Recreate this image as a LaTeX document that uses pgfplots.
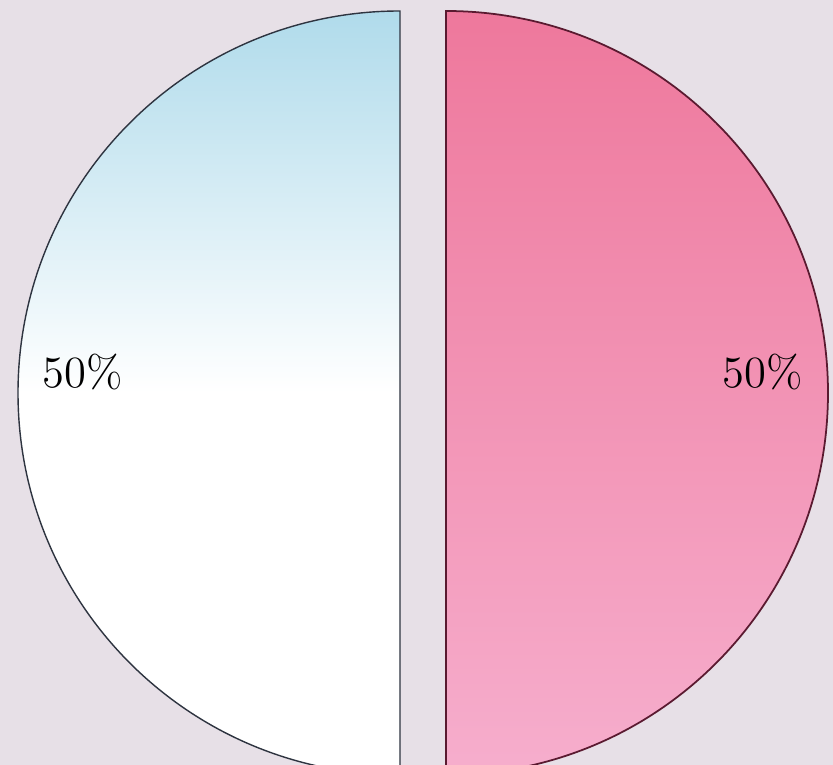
\documentclass[border=0pt]{standalone}
\usepackage{pgfplots}
\pgfplotsset{compat=1.18}
\usepackage{pgfplotstable}
\definecolor{bg}{HTML}{E7E0E7}
\definecolor{blueA}{HTML}{B0DBEB}
\definecolor{pinkA}{HTML}{EE789C}
\definecolor{pinkB}{HTML}{F6AECD}
\definecolor{rimL}{HTML}{2E3440}
\definecolor{rimR}{HTML}{5A1A30}

\pgfplotstableread{
label value
A 50
B 50
}\piedata

% geometry in data units (1 unit = 0.1 mm)
\def\cx{423}\def\cy{372}\def\R{382}\def\ex{23}\def\lr{0.83}

\pgfplotstablegetelem{0}{value}\of\piedata \let\va\pgfplotsretval
\pgfplotstablegetelem{1}{value}\of\piedata \let\vb\pgfplotsretval
\pgfmathsetmacro\tot{\va+\vb}
\pgfmathsetmacro\fA{\va/\tot}
\pgfmathsetmacro\fB{\vb/\tot}
\pgfmathsetmacro\sA{90}
\pgfmathsetmacro\eA{\sA+360*\fA}
\pgfmathsetmacro\mA{(\sA+\eA)/2}
\pgfmathsetmacro\sB{\eA}
\pgfmathsetmacro\eB{\sB+360*\fB}
\pgfmathsetmacro\mB{(\sB+\eB)/2}
\pgfmathsetmacro\axA{\cx+\ex*cos(\mA)}\pgfmathsetmacro\ayA{\cy+\ex*sin(\mA)}
\pgfmathsetmacro\axB{\cx+\ex*cos(\mB)}\pgfmathsetmacro\ayB{\cy+\ex*sin(\mB)}
\pgfmathsetmacro\lxA{\axA+\lr*\R*cos(\mA)}\pgfmathsetmacro\lyA{\ayA+\lr*\R*sin(\mA)+21}
\pgfmathsetmacro\lxB{\axB+\lr*\R*cos(\mB)}\pgfmathsetmacro\lyB{\ayB+\lr*\R*sin(\mB)+21}
\pgfmathtruncatemacro\pA{round(100*\fA)}
\pgfmathtruncatemacro\pB{round(100*\fB)}
\pgfmathsetmacro\Rcm{\R/100}

\begin{document}
\begin{tikzpicture}
\begin{axis}[scale only axis, width=8.33cm, height=7.65cm,
  xmin=0, xmax=833, ymin=0, ymax=765,
  axis lines=none, ticks=none, clip=true]
\fill[bg] (axis cs:0,0) rectangle (axis cs:833,765);
\shadedraw[top color=blueA, bottom color=white, middle color=white, draw=rimL, line width=0.4pt]
  (axis cs:\axA,\ayA) -- ++(\sA:\Rcm cm) arc[start angle=\sA, end angle=\eA, radius=\Rcm cm] -- cycle;
\shadedraw[top color=pinkA, bottom color=pinkB, draw=rimR, line width=0.5pt]
  (axis cs:\axB,\ayB) -- ++(\sB:\Rcm cm) arc[start angle=\sB, end angle=\eB, radius=\Rcm cm] -- cycle;
\node[font=\fontsize{12.7}{15}\selectfont, text=black] at (axis cs:\lxA,\lyA) {\pA\%};
\node[font=\fontsize{12.7}{15}\selectfont, text=black] at (axis cs:\lxB,\lyB) {\pB\%};
\end{axis}
\end{tikzpicture}
\end{document}
